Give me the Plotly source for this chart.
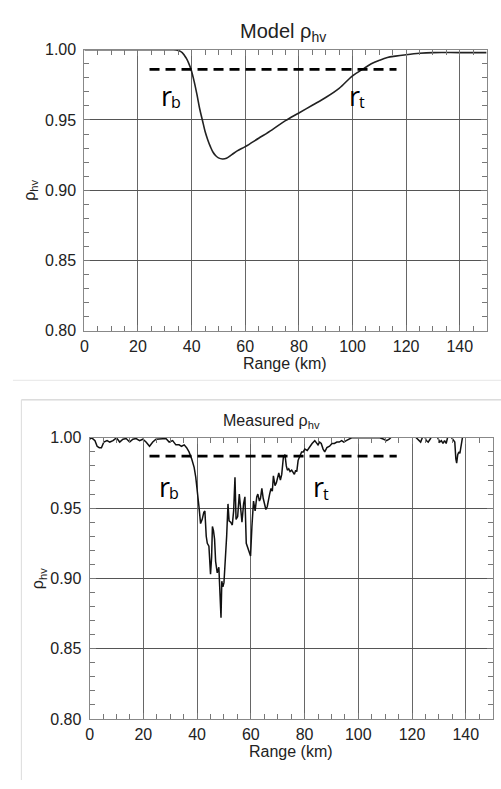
import plotly.graph_objects as go

W, H = 501, 789

# ---------------- data ----------------
model_range = [0, 10, 20, 30, 33, 35, 36.5, 38, 39, 39.8, 41, 42, 43, 44, 45, 46, 47, 48, 49, 50,
               51.5, 53, 55, 57, 60, 65, 70, 75, 80, 85, 90, 95, 100, 103.7, 107, 110, 113, 116,
               120, 125, 130, 140, 150]
model_rho = [1.0, 1.0, 1.0, 1.0, 1.0, 0.9995, 0.998, 0.994, 0.990, 0.986, 0.977, 0.968, 0.958, 0.950,
             0.942, 0.936, 0.931, 0.927, 0.9245, 0.923, 0.9222, 0.9227, 0.9253, 0.928, 0.931, 0.937,
             0.943, 0.9495, 0.955, 0.9605, 0.966, 0.9725, 0.9815, 0.986, 0.990, 0.9925, 0.9945,
             0.9955, 0.9965, 0.9975, 0.998, 0.998, 0.998]

meas_range = [0.0, 0.8, 2.0, 2.8, 3.6, 4.4, 5.3, 6.5, 7.5, 8.7, 10.0, 11.2, 12.4, 13.6, 14.9, 16.1,
              17.3, 18.6, 19.8, 21.0, 22.3, 23.5, 24.7, 26.6, 28.4, 29.6, 30.9, 32.1, 33.3, 34.2,
              35.2, 36.1, 37.0, 38.0, 38.9, 39.5, 40.1, 40.7, 41.3, 41.9, 42.5, 42.9, 43.4, 43.8,
              44.4, 45.0, 45.4, 45.7, 46.1, 46.5, 46.9, 47.5, 48.1, 48.5, 48.9, 49.2, 49.6, 50.0,
              50.5, 51.0, 51.5, 51.9, 52.5, 53.1, 53.6, 54.1, 54.5, 55.1, 55.7, 56.2, 56.7, 57.3,
              57.8, 58.3, 58.9, 59.5, 59.9, 60.4, 61.0, 61.6, 62.2, 62.6, 63.2, 63.6, 64.1, 64.6,
              65.1, 65.6, 66.1, 66.6, 67.0, 67.5, 68.0, 68.4, 69.0, 69.5, 70.0, 70.4, 71.0, 71.5,
              72.1, 72.7, 73.2, 73.6, 74.1, 74.6, 75.2, 75.7, 76.2, 76.7, 77.1, 77.6, 78.2, 78.9,
              79.5, 80.1, 81.0, 81.9, 82.8, 83.8, 84.4, 85.0, 85.6, 86.2, 86.9, 87.5, 88.3, 89.3,
              90.2, 91.1, 92.0, 92.9, 93.8, 94.6, 95.5, 96.6, 97.5, 98.5, 100.0, 104.0, 108.0,
              109.5, 110.5, 111.5, 112.0, 112.5, 116.0, 120.0, 121.5, 122.5, 123.2, 123.8, 124.5,
              125.3, 126.0, 126.7, 127.3, 128.5, 129.6, 130.3, 130.9, 131.5, 132.1, 132.7, 133.2,
              134.0, 134.8, 135.3, 135.9, 136.3, 136.6, 137.0, 137.4, 137.8, 138.2, 138.5, 139.0,
              150.0]
meas_rho = [0.999, 1.0, 0.998, 0.994, 0.993, 0.993, 0.997, 0.998, 0.997, 0.998, 1.0, 0.997, 0.999,
            0.9995, 0.997, 0.999, 0.9995, 0.998, 0.999, 0.997, 0.994, 0.997, 0.999, 0.9995, 0.9995,
            0.997, 0.998, 0.995, 0.995, 0.994, 0.995, 0.993, 0.990, 0.985, 0.979, 0.972, 0.963,
            0.951, 0.939, 0.942, 0.947, 0.948, 0.930, 0.925, 0.923, 0.903, 0.915, 0.937, 0.934,
            0.928, 0.912, 0.904, 0.908, 0.893, 0.872, 0.898, 0.894, 0.897, 0.911, 0.930, 0.953,
            0.941, 0.940, 0.938, 0.948, 0.972, 0.942, 0.944, 0.960, 0.948, 0.940, 0.953, 0.958,
            0.925, 0.921, 0.918, 0.916, 0.937, 0.955, 0.948, 0.958, 0.960, 0.955, 0.957, 0.964,
            0.957, 0.952, 0.949, 0.951, 0.958, 0.960, 0.964, 0.962, 0.973, 0.966, 0.968, 0.972,
            0.975, 0.970, 0.974, 0.986, 0.988, 0.980, 0.977, 0.978, 0.976, 0.977, 0.975, 0.974,
            0.977, 0.976, 0.984, 0.987, 0.990, 0.990, 0.992, 0.991, 0.994, 0.996, 0.998, 0.996,
            0.995, 0.997, 0.996, 0.992, 0.990, 0.993, 0.994, 0.996, 0.996, 0.997, 0.997, 0.998,
            0.997, 0.998, 0.999, 1.0, 1.0, 1.0, 1.0, 1.0, 0.999, 0.998, 0.999, 1.0, 1.003, 1.004,
            1.003, 1.0, 0.998, 0.997, 1.0, 1.002, 0.998, 0.997, 0.999, 1.001, 1.002, 1.0, 0.997,
            0.998, 0.996, 0.998, 0.996, 1.0, 1.002, 1.0, 0.998, 0.997, 0.985, 0.982, 0.988, 0.990,
            0.989, 0.995, 1.0, 1.003, 1.003]

# threshold dashed lines (x extent, level)
model_thresh_x = [24.3, 116.4]
model_thresh_y = [0.986, 0.986]
meas_thresh_x = [22.3, 114.3]
meas_thresh_y = [0.987, 0.987]

x_ticks = [0, 20, 40, 60, 80, 100, 120, 140]
y_ticks = [0.80, 0.85, 0.90, 0.95, 1.00]
y_tick_text = ["0.80", "0.85", "0.90", "0.95", "1.00"]

# ---------------- figure ----------------
def px_x(p):
    return p / W

def px_y(p):
    return 1 - p / H

fig = go.Figure()

fig.add_trace(go.Scatter(x=model_range, y=model_rho, mode="lines", line=dict(color="#222", width=1.6, shape="spline"),
                         xaxis="x", yaxis="y", showlegend=False))
fig.add_trace(go.Scatter(x=model_thresh_x, y=model_thresh_y, mode="lines",
                         line=dict(color="black", width=2.8, dash="10px,6px"),
                         xaxis="x", yaxis="y", showlegend=False))
fig.add_trace(go.Scatter(x=meas_range, y=meas_rho, mode="lines", line=dict(color="#111", width=1.5),
                         xaxis="x2", yaxis="y2", showlegend=False))
fig.add_trace(go.Scatter(x=meas_thresh_x, y=meas_thresh_y, mode="lines",
                         line=dict(color="black", width=2.8, dash="10px,6px"),
                         xaxis="x2", yaxis="y2", showlegend=False))

tickfont = dict(family="Liberation Sans, Arial, sans-serif", size=16, color="#222")

def xax(domain, anchor):
    return dict(domain=domain, anchor=anchor, range=[0, 150], tickvals=x_ticks,
                ticks="inside", ticklen=6, tickcolor="#777", showline=True, linecolor="#888",
                linewidth=1, mirror="ticks", showgrid=True, gridcolor="#666", gridwidth=1,
                zeroline=False, tickfont=tickfont, ticklabelstandoff=1,
                minor=dict(dtick=5, ticks="inside", ticklen=5, tickcolor="#777", showgrid=False))

def yax(domain, anchor):
    return dict(domain=domain, anchor=anchor, range=[0.80, 1.00], tickvals=y_ticks, ticktext=y_tick_text,
                ticks="inside", ticklen=6, tickcolor="#777", showline=True, linecolor="#888",
                linewidth=1, mirror="ticks", showgrid=True, gridcolor="#555", gridwidth=1,
                zeroline=False, tickfont=tickfont, ticklabelstandoff=4,
                minor=dict(dtick=0.01, ticks="inside", ticklen=5, tickcolor="#777", showgrid=False))

fig.update_layout(
    width=W, height=H, autosize=False,
    margin=dict(l=0, r=0, t=0, b=0),
    paper_bgcolor="white", plot_bgcolor="white",
    xaxis=xax([px_x(81), px_x(486.5)], "y"),
    yaxis=yax([px_y(329.7), px_y(42.7)], "x"),
    xaxis2=xax([px_x(86.3), px_x(492.6)], "y2"),
    yaxis2=yax([px_y(726.7), px_y(439.3)], "x2"),
)

font_lbl = dict(family="Liberation Sans, Arial, sans-serif", size=16, color="#222")
font_title1 = dict(family="Liberation Sans, Arial, sans-serif", size=20, color="#222")
font_title2 = dict(family="Liberation Sans, Arial, sans-serif", size=16, color="#222")
font_r = dict(family="Open Sans, Noto Sans, sans-serif", size=27, color="black")
font_rs = dict(family="Open Sans, Noto Sans, sans-serif", size=16, color="black")

ann = []
def txt(text, x, y, font, angle=0, xanchor="center"):
    ann.append(dict(text=text, x=px_x(x), y=px_y(y), xref="paper", yref="paper", showarrow=False,
                    font=font, textangle=angle, xanchor=xanchor, yanchor="middle"))

# titles
txt("Model ρ<sub>hv</sub>", 281, 25, font_title1)
txt("Measured ρ<sub>hv</sub>", 270, 423, font_title2)
# x-axis titles
txt("Range (km)", 283.5, 363, font_lbl)
txt("Range (km)", 289, 760, font_lbl)
# y-axis titles
txt("ρ<sub>hv</sub>", 27, 186, font_lbl, angle=-90)
txt("ρ<sub>hv</sub>", 35, 583, font_lbl, angle=-90)
# r_b / r_t labels: main letter and its subscript
r_labels = [  # (main-left px, baseline-center px, sub-left px, sub-center px, sub letter)
    (156.5, 89.5, 166.0, 95.8, "b"),
    (345.5, 89.5, 355.5, 96.5, "t"),
    (154.5, 489.5, 164.5, 495.8, "b"),
    (309.5, 489.5, 319.5, 496.5, "t"),
]
for mx, my, sx, sy, s in r_labels:
    txt("r", mx, my, font_r, xanchor="left")
    txt(s, sx, sy, font_rs, xanchor="left")
fig.update_layout(annotations=ann)

# panel frame lines (screenshot borders)
fig.update_layout(shapes=[
    dict(type="line", xref="paper", yref="paper", x0=px_x(9), x1=1.0, y0=px_y(380.5), y1=px_y(380.5),
         line=dict(color="#e6e6e6", width=1)),
    dict(type="line", xref="paper", yref="paper", x0=px_x(17.5), x1=1.0, y0=px_y(400.5), y1=px_y(400.5),
         line=dict(color="#c8c8c8", width=1)),
    dict(type="line", xref="paper", yref="paper", x0=px_x(17.5), x1=px_x(17.5), y0=0, y1=px_y(400.5),
         line=dict(color="#dcdcdc", width=1)),
])

fig.write_html("out.html")
